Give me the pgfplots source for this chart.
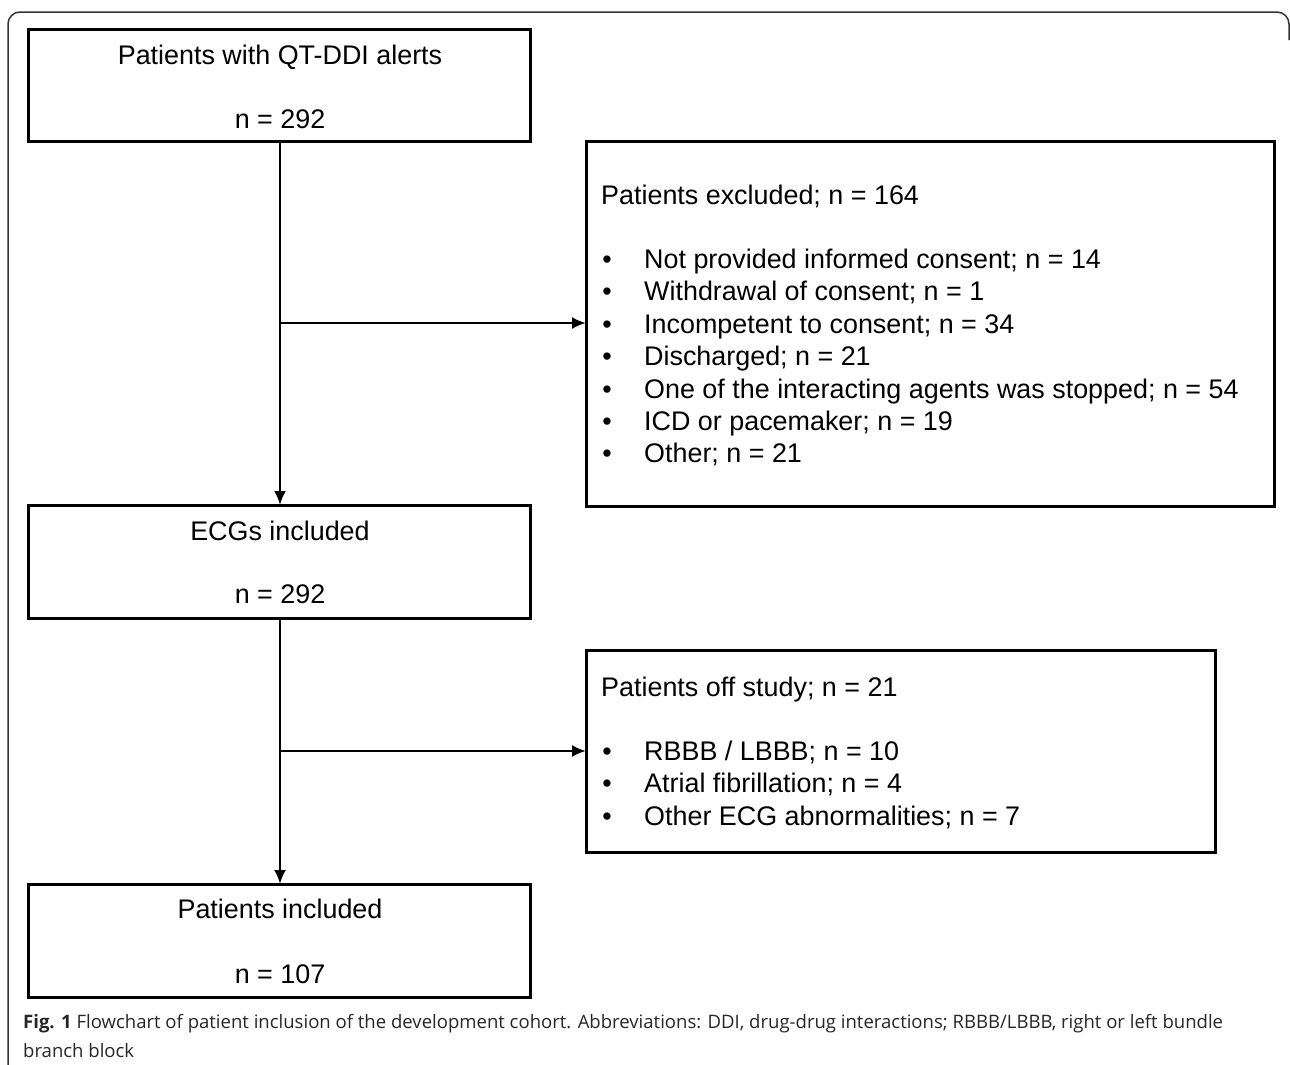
\documentclass[border=0pt]{standalone}
\usepackage{pgfplots}
\pgfplotsset{compat=1.18}
\usetikzlibrary{arrows.meta}
\usepackage{fontspec}
\setmainfont{Liberation Sans}
\newfontfamily\capfont{Open Sans}

\begin{document}
\begin{tikzpicture}
\tikzset{t/.style={inner sep=0pt, font=\fontsize{27}{30}\selectfont},
         bl/.style={t, anchor=base},
         tx/.style={t, anchor=base west},
         box/.style={line width=3bp},
         figcap/.style={inner sep=0pt, anchor=base west, text=black!85,
                     font=\capfont\fontsize{18.6}{30}\selectfont},
         arr/.style={line width=2.3bp, -{Latex[length=14bp,width=12bp]}}}
\begin{axis}[
  hide axis, scale only axis,
  width=1290bp, height=1065bp,
  xmin=0, xmax=1290, ymin=0, ymax=1065,
  y dir=reverse, clip=false,
]
% outer frame
\draw[line width=1.5bp, black!80, rounded corners=12bp]
  (8,1066) -- (8,12) -- (1289,12) -- (1289,40);

% boxes
\draw[box] (28,29) rectangle (530,141);
\draw[box] (586,141) rectangle (1274,506);
\draw[box] (28,505) rectangle (530,618);
\draw[box] (586,650) rectangle (1215,852);
\draw[box] (28,884) rectangle (530,997);

% arrows
\draw[arr] (280,141) -- (280,505);
\draw[arr] (280,323) -- (586,323);
\draw[arr] (280,618) -- (280,884);
\draw[arr] (280,751) -- (586,751);

% left column
\node[bl] at (280,64) {Patients with QT-DDI alerts};
\node[bl] at (280,128) {n = 292};
\node[bl] at (280,540) {ECGs included};
\node[bl] at (280,603) {n = 292};
\node[bl] at (280,918) {Patients included};
\node[bl] at (280,983) {n = 107};

% excluded box
\node[tx] at (601,204) {Patients excluded; n = 164};
\node[bl] at (607,268) {\textbullet};
\node[tx] at (644,268) {Not provided informed consent; n = 14};
\node[bl] at (607,300) {\textbullet};
\node[tx] at (644,300) {Withdrawal of consent; n = 1};
\node[bl] at (607,333) {\textbullet};
\node[tx] at (644,333) {Incompetent to consent; n = 34};
\node[bl] at (607,365) {\textbullet};
\node[tx] at (644,365) {Discharged; n = 21};
\node[bl] at (607,398) {\textbullet};
\node[tx] at (644,398) {One of the interacting agents was stopped; n = 54};
\node[bl] at (607,430) {\textbullet};
\node[tx] at (644,430) {ICD or pacemaker; n = 19};
\node[bl] at (607,462) {\textbullet};
\node[tx] at (644,462) {Other; n = 21};

% off study box
\node[tx] at (601,696) {Patients off study; n = 21};
\node[bl] at (607,760) {\textbullet};
\node[tx] at (644,760) {RBBB / LBBB; n = 10};
\node[bl] at (607,792) {\textbullet};
\node[tx] at (644,792) {Atrial fibrillation; n = 4};
\node[bl] at (607,825) {\textbullet};
\node[tx] at (644,825) {Other ECG abnormalities; n = 7};

% caption
\node[figcap] at (23,1028)
  {{\bfseries Fig. 1} Flowchart of patient inclusion of the development cohort. Abbreviations: DDI, drug-drug interactions; RBBB/LBBB, right or left bundle};
\node[figcap] at (23,1057) {branch block};
\end{axis}
\pgfresetboundingbox
\path[use as bounding box] (current axis.south west) rectangle (current axis.north east);
\end{tikzpicture}
\end{document}
